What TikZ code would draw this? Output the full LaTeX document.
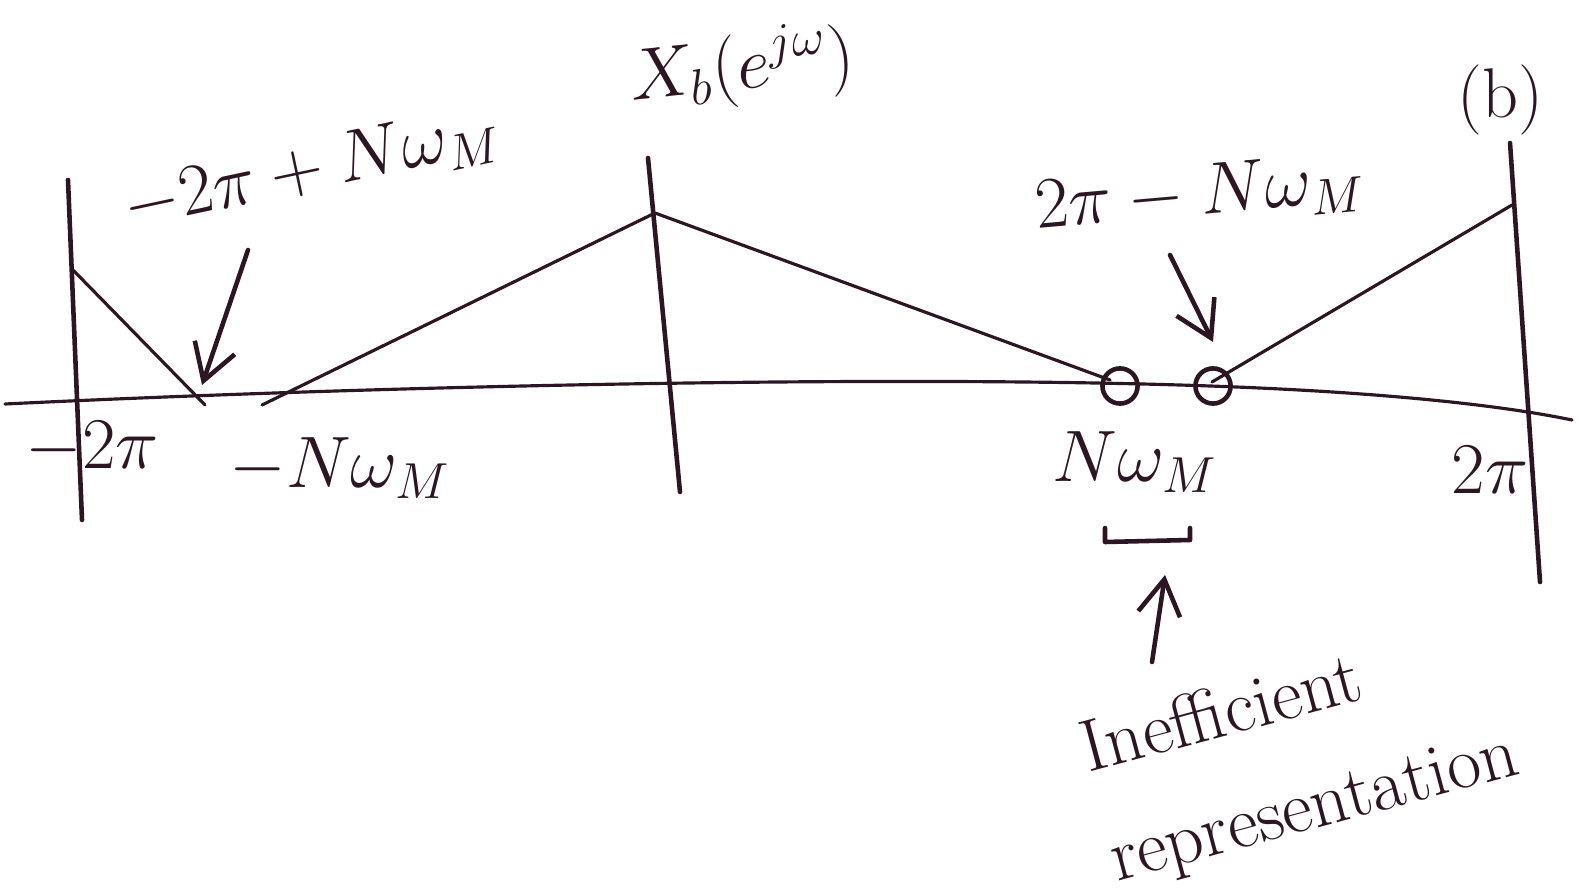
\documentclass[tikz,border=0pt]{standalone}
\usepackage{amsmath}
\usetikzlibrary{arrows.meta,calc}
\definecolor{ink}{RGB}{45,22,35}
\tikzset{
  pen/.style={draw=ink, line width=1.3pt, line cap=round, line join=round},
  thin pen/.style={draw=ink, line width=0.9pt, line cap=round, line join=round},
  lbl/.style={text=ink, font=\fontsize{20}{24}\selectfont, inner sep=1pt},
  arr/.style={pen, -{Straight Barb[length=10pt,width=12pt]}},
}
\begin{document}
\begin{tikzpicture}[x=0.01cm, y=-0.01cm]
\useasboundingbox (0,0) rectangle (1580,892);
% axis
\coordinate (axL) at (5,404);
\coordinate (axR) at (1572,420);
\draw[thin pen] (axL) .. controls (400,385) and (900,375) .. (1210,386) .. controls (1380,392) and (1500,405) .. (axR);
% vertical lines
\coordinate (v1t) at (68,180); \coordinate (v1b) at (82,520);
\coordinate (v2t) at (648,158); \coordinate (v2b) at (680,492);
\coordinate (v3t) at (1510,143); \coordinate (v3b) at (1540,582);
\draw[pen] (v1t) -- (v1b);
\draw[pen] (v2t) -- (v2b);
\draw[pen] (v3t) -- (v3b);
% spectrum
\coordinate (a0) at (73,270); \coordinate (a1) at (205,405);
\coordinate (b0) at (262,405); \coordinate (bp) at (655,213); \coordinate (b1) at (1110,380);
\coordinate (c0) at (1212,382); \coordinate (c1) at (1512,205);
\draw[thin pen] (a0) -- (a1);
\draw[thin pen] (b0) -- (bp) -- (b1);
\draw[thin pen] (c0) -- (c1);
% circles
\node[pen, circle, minimum size=10pt, inner sep=0pt] (o1) at (1120,386) {};
\node[pen, circle, minimum size=10pt, inner sep=0pt] (o2) at (1213,386) {};
% labels
\node[lbl, rotate=6] (xb) at (742,68) {$X_b(e^{j\omega})$};
\node[lbl] (bb) at (1500,100) {(b)};
\node[lbl, rotate=12] (lm) at (312,170) {$-2\pi+N\omega_M$};
\node[lbl, rotate=5] (lp) at (1200,195) {$2\pi-N\omega_M$};
\node[lbl] (m2pi) at (92,448) {$-2\pi$};
\node[lbl] (mnw) at (340,468) {$-N\omega_M$};
\node[lbl] (nw) at (1135,462) {$N\omega_M$};
\node[lbl] (p2pi) at (1490,470) {$2\pi$};
\node[lbl, rotate=15, align=left, font=\fontsize{21}{32}\selectfont] (ineff) at (1300,755) {Inefficient\\representation};
% arrows
\coordinate (ar1s) at (248,250); \coordinate (ar1e) at (202,385);
\draw[arr] (ar1s) -- (ar1e);
\coordinate (ar2s) at (1170,255); \coordinate (ar2e) at (1213,342);
\draw[arr] (ar2s) -- (ar2e);
% bracket
\coordinate (br1) at (1105,528); \coordinate (br2) at (1190,528);
\draw[pen] (br1) -- ++(0,14) -- ($(br2)+(0,12)$) -- (br2);
\coordinate (ar3s) at (1152,662); \coordinate (ar3e) at (1165,575);
\draw[arr] (ar3s) -- (ar3e);
\end{tikzpicture}
\end{document}
